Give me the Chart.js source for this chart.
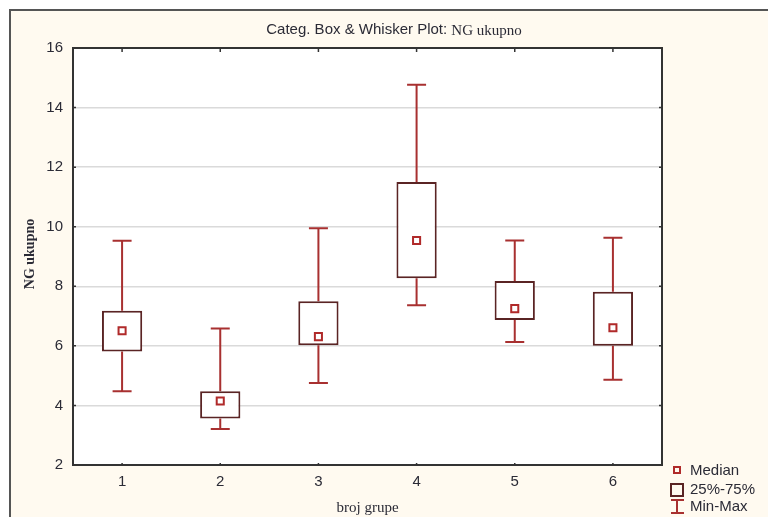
<!DOCTYPE html>
<html>
<head>
<meta charset="utf-8">
<script src="https://cdn.jsdelivr.net/npm/chart.js@4.4.1/dist/chart.umd.min.js"></script>
<style>
  html, body { margin: 0; padding: 0; background: #ffffff; }
  #wrap { width: 768px; height: 517px; }
</style>
</head>
<body>
<div id="wrap"><canvas id="c" width="768" height="517"></canvas></div>
<script>
// Groups (broj grupe) and NG ukupno summary statistics per group
const groups = ['1', '2', '3', '4', '5', '6'];
const minValues    = [4.48, 3.21, 4.75, 7.36, 6.13, 4.86];
const q1Values     = [5.81, 3.56, 6.02, 8.27, 6.87, 6.00];
const medianValues = [6.51, 4.15, 6.31, 9.54, 7.25, 6.61];
const q3Values     = [7.18, 4.48, 7.50, 11.50, 8.18, 7.82];
const maxValues    = [9.53, 6.58, 9.95, 14.77, 9.54, 9.63];

const yTicks = [2, 4, 6, 8, 10, 12, 14, 16];

const chartTitle = 'Categ. Box & Whisker Plot: ';
const varName = 'NG ukupno';
const xTitle = 'broj grupe';
const legendLabels = ['Median', '25%-75%', 'Min-Max'];

const BOX_EDGE = '#5a2424';
const WHISKER = '#a83030';
const MEDIAN = '#b02a2a';
const TEXT = '#2b2b36';
const SANS = "'Liberation Sans', Arial, sans-serif";
const SERIF = "'Liberation Serif', 'Times New Roman', serif";

// Page frame, plot background, whiskers, outer ticks, titles and legend
const framePlugin = {
  id: 'frame',
  beforeDraw(chart) {
    const { ctx, chartArea: a } = chart;
    ctx.save();
    ctx.fillStyle = '#ffffff';
    ctx.fillRect(0, 0, chart.width, chart.height);
    ctx.fillStyle = '#fffaf0';
    ctx.fillRect(10, 10, chart.width - 10, chart.height - 10);
    ctx.strokeStyle = '#555555';
    ctx.lineWidth = 2;
    ctx.beginPath();
    ctx.moveTo(10, chart.height);
    ctx.lineTo(10, 10);
    ctx.lineTo(chart.width, 10);
    ctx.stroke();
    ctx.fillStyle = '#ffffff';
    ctx.fillRect(a.left, a.top, a.right - a.left, a.bottom - a.top);
    ctx.restore();
  },
  beforeDatasetsDraw(chart) {
    const { ctx } = chart;
    const xs = chart.scales.x, ys = chart.scales.y;
    ctx.save();
    ctx.strokeStyle = WHISKER;
    ctx.lineWidth = 2;
    const cap = 9.5;
    groups.forEach((g, i) => {
      const x = xs.getPixelForValue(i);
      const yMin = ys.getPixelForValue(minValues[i]);
      const yQ1 = ys.getPixelForValue(q1Values[i]);
      const yQ3 = ys.getPixelForValue(q3Values[i]);
      const yMax = ys.getPixelForValue(maxValues[i]);
      ctx.beginPath();
      ctx.moveTo(x, yMax); ctx.lineTo(x, yQ3);
      ctx.moveTo(x, yQ1); ctx.lineTo(x, yMin);
      ctx.moveTo(x - cap, yMax); ctx.lineTo(x + cap, yMax);
      ctx.moveTo(x - cap, yMin); ctx.lineTo(x + cap, yMin);
      ctx.stroke();
    });
    ctx.restore();
  },
  afterDraw(chart) {
    const { ctx, chartArea: a } = chart;
    const xs = chart.scales.x, ys = chart.scales.y;
    ctx.save();
    // plot border
    ctx.strokeStyle = '#333333';
    ctx.lineWidth = 2;
    ctx.strokeRect(a.left, a.top, a.right - a.left, a.bottom - a.top);
    // small inward ticks on every edge
    ctx.lineWidth = 1.5;
    ctx.beginPath();
    groups.forEach((g, i) => {
      const x = xs.getPixelForValue(i);
      ctx.moveTo(x, a.top); ctx.lineTo(x, a.top + 4);
      ctx.moveTo(x, a.bottom); ctx.lineTo(x, a.bottom - 2);
    });
    yTicks.forEach(v => {
      const y = ys.getPixelForValue(v);
      ctx.moveTo(a.right, y); ctx.lineTo(a.right - 3, y);
      ctx.moveTo(a.left, y); ctx.lineTo(a.left + 3, y);
    });
    ctx.stroke();

    // title
    ctx.fillStyle = TEXT;
    ctx.textBaseline = 'middle';
    ctx.textAlign = 'left';
    ctx.font = '15px ' + SANS;
    const w1 = ctx.measureText(chartTitle).width;
    ctx.font = '15px ' + SERIF;
    const w2 = ctx.measureText(varName).width;
    const tx = 394 - (w1 + w2) / 2;
    ctx.font = '15px ' + SANS;
    ctx.fillText(chartTitle, tx, 30);
    ctx.font = '15px ' + SERIF;
    ctx.fillText(varName, tx + w1, 31);

    // axis titles
    ctx.font = '15px ' + SERIF;
    ctx.textAlign = 'center';
    ctx.fillText(xTitle, (a.left + a.right) / 2, 508);
    ctx.save();
    ctx.translate(30, 254);
    ctx.rotate(-Math.PI / 2);
    ctx.font = 'bold 14px ' + SERIF;
    ctx.fillText(varName, 0, 0);
    ctx.restore();

    // legend
    ctx.textAlign = 'left';
    ctx.font = '15px ' + SANS;
    ctx.strokeStyle = MEDIAN;
    ctx.lineWidth = 2;
    ctx.strokeRect(674, 467, 6, 6);
    ctx.fillText(legendLabels[0], 690, 471);
    ctx.strokeStyle = BOX_EDGE;
    ctx.strokeRect(671, 484, 12, 12);
    ctx.fillText(legendLabels[1], 690, 490);
    ctx.strokeStyle = WHISKER;
    ctx.beginPath();
    ctx.moveTo(677, 500); ctx.lineTo(677, 513);
    ctx.moveTo(671, 500); ctx.lineTo(684, 500);
    ctx.moveTo(671, 513); ctx.lineTo(684, 513);
    ctx.stroke();
    ctx.fillText(legendLabels[2], 690, 507);
    ctx.restore();
  }
};

new Chart(document.getElementById('c'), {
  data: {
    labels: groups,
    datasets: [
      {
        type: 'line',
        label: legendLabels[0],
        data: medianValues,
        showLine: false,
        pointStyle: 'rect',
        pointRadius: 5,
        pointBorderWidth: 2,
        pointBorderColor: MEDIAN,
        pointBackgroundColor: '#ffffff',
        order: 0
      },
      {
        type: 'bar',
        label: legendLabels[1],
        data: q1Values.map((v, i) => [v, q3Values[i]]),
        backgroundColor: '#ffffff',
        borderColor: BOX_EDGE,
        borderWidth: 2,
        borderSkipped: false,
        barPercentage: 0.41,
        categoryPercentage: 1,
        order: 1
      }
    ]
  },
  options: {
    responsive: false,
    animation: false,
    devicePixelRatio: 1,
    layout: { padding: { left: 0, top: 48, right: 106, bottom: 0 } },
    plugins: {
      legend: { display: false },
      title: { display: false },
      tooltip: { enabled: false }
    },
    scales: {
      x: {
        type: 'category',
        offset: true,
        grid: { display: false, drawTicks: false },
        border: { display: false },
        ticks: { color: TEXT, font: { family: SANS, size: 15 }, padding: 8 },
        afterFit(s) { s.height = 52; }
      },
      y: {
        min: 2,
        max: 16,
        afterBuildTicks(s) { s.ticks = yTicks.map(v => ({ value: v })); },
        grid: { color: '#dadada', lineWidth: 1.5, drawTicks: false },
        border: { display: false },
        ticks: { color: TEXT, font: { family: SANS, size: 15 }, padding: 10 },
        afterFit(s) { s.width = 73; }
      }
    }
  },
  plugins: [framePlugin]
});
</script>
</body>
</html>
